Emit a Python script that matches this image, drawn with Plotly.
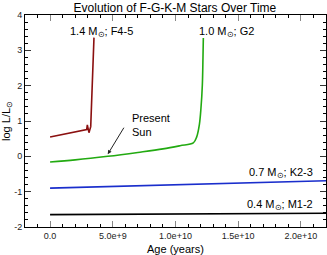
import plotly.graph_objects as go

# ---- data ----
age_14 = [0.0, 1.59e9, 2.92e9, 2.97e9, 3.10e9, 3.24e9, 3.32e9, 3.42e9, 3.50e9]
lum_14 = [0.545, 0.67, 0.76, 0.89, 0.67, 0.84, 1.50, 2.50, 3.36]

age_10 = [0.0, 2.0e9, 4.6e9, 7.0e9, 9.0e9, 1.036e10, 1.142e10, 1.169e10, 1.19e10,
          1.203e10, 1.214e10, 1.219e10, 1.222e10]
lum_10 = [-0.16, -0.10, 0.0, 0.11, 0.21, 0.30, 0.38, 0.55, 0.89, 1.36, 2.02, 2.78, 3.35]

age_07 = [0.0, 1.0e10, 2.2e10]
lum_07 = [-0.90, -0.80, -0.69]

age_04 = [0.0, 1.0e10, 2.2e10]
lum_04 = [-1.65, -1.63, -1.61]

x_tickvals = [0, 5e9, 1e10, 1.5e10, 2e10]
x_ticktext = ["0.0", "5.0e+9", "1.0e+10", "1.5e+10", "2.0e+10"]
y_tickvals = [-2, -1, 0, 1, 2, 3, 4]
y_ticktext = ["-2", "-1", "0", "1", "2", "3", "4"]

labels = ["1.4 M<sub>⊙</sub>; F4-5", "1.0 M<sub>⊙</sub>; G2",
          "0.7 M<sub>⊙</sub>; K2-3", "0.4 M<sub>⊙</sub>; M1-2"]

FONT = "Liberation Sans, Arial, sans-serif"

fig = go.Figure()
fig.add_trace(go.Scatter(x=age_14, y=lum_14, mode="lines", line=dict(color="#8B1010", width=1.6)))
fig.add_trace(go.Scatter(x=age_10, y=lum_10, mode="lines", line=dict(color="#22AA11", width=1.6), line_shape="spline"))
fig.add_trace(go.Scatter(x=age_07, y=lum_07, mode="lines", line=dict(color="#1A2ECC", width=1.6)))
fig.add_trace(go.Scatter(x=age_04, y=lum_04, mode="lines", line=dict(color="#000000", width=1.6)))

ann_font = dict(family=FONT, size=11, color="#000")
fig.add_annotation(x=4.06e9, y=3.53, text=labels[0], showarrow=False, font=ann_font)
fig.add_annotation(x=1.41e10, y=3.53, text=labels[1], showarrow=False, font=ann_font)
fig.add_annotation(x=2.11e10, y=-0.48, text=labels[2], showarrow=False, xanchor="right", font=ann_font)
fig.add_annotation(x=2.11e10, y=-1.385, text=labels[3], showarrow=False, xanchor="right", font=ann_font)
fig.add_annotation(x=6.4e9, y=0.885, text="Present<br>Sun", showarrow=False, xanchor="left",
                   align="left", font=ann_font)
fig.add_annotation(x=4.6e9, y=0.06, text="", showarrow=True, ax=17, ay=-28,
                   arrowhead=2, arrowsize=0.8, arrowwidth=1, arrowcolor="#222")

# axis titles placed as paper annotations
fig.add_annotation(xref="paper", yref="paper", x=0.5, y=-0.105, yanchor="middle",
                   text="Age (years)", showarrow=False, font=ann_font)
fig.add_annotation(xref="paper", yref="paper", x=-0.06, y=0.5, xanchor="center",
                   text="log L/L<sub>⊙</sub>", textangle=-90, showarrow=False, font=ann_font)

fig.update_layout(
    width=327, height=255,
    margin=dict(l=25, r=1, t=15, b=28, autoexpand=False),
    paper_bgcolor="white", plot_bgcolor="white",
    showlegend=False,
    font=dict(family=FONT, size=9, color="#222"),
    title=dict(text="Evolution of F-G-K-M Stars Over Time", x=0.535, xanchor="center",
               y=0.968, yanchor="middle", font=dict(family=FONT, size=12, color="#000")),
)
fig.update_xaxes(
    range=[-2e9, 2.2e10], tickvals=x_tickvals, ticktext=x_ticktext, automargin=False,
    showline=True, linecolor="#000", linewidth=1, mirror="allticks",
    ticks="inside", ticklen=6, tickcolor="#888", showgrid=False, zeroline=False,
    tickfont=dict(size=9, color="#222"),
    minor=dict(dtick=1e9, ticks="inside", ticklen=3, tickcolor="#000", showgrid=False),
)
fig.update_yaxes(
    range=[-2, 4], tickvals=y_tickvals, ticktext=y_ticktext, automargin=False,
    showline=True, linecolor="#000", linewidth=1, mirror="allticks",
    ticks="inside", ticklen=6, tickcolor="#333", showgrid=False, zeroline=False,
    tickfont=dict(size=9, color="#222"),
    minor=dict(dtick=0.2, ticks="inside", ticklen=3, tickcolor="#000", showgrid=False),
)

fig.write_html("out.html", config={"displayModeBar": False},
               post_script="document.body.style.margin='0';")
